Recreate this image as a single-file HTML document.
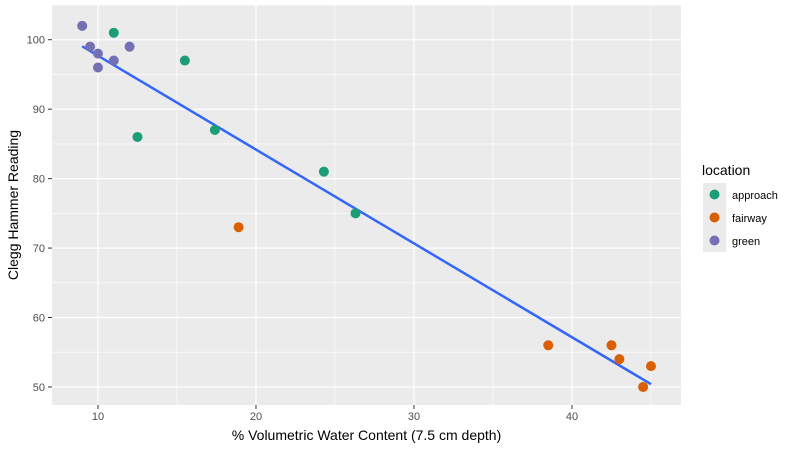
<!DOCTYPE html>
<html><head><meta charset="utf-8"><style>
body{margin:0;background:#fff;font-family:"Liberation Sans",sans-serif}
</style></head><body>
<svg id="c" width="800" height="450" xmlns="http://www.w3.org/2000/svg"></svg>
<script>
const approachX=[11,15.5,12.5,17.4,24.3,26.3];
const approachY=[101,97,86,87,81,75];
const fairwayX=[18.9,38.5,42.5,43,45,44.5];
const fairwayY=[73,56,56,54,53,50];
const greenX=[9,9.5,10,10,11,12];
const greenY=[102,99,98,96,97,99];
const xTicks=[10,20,30,40];
const yTicks=[50,60,70,80,90,100];
const colors={approach:"#1b9e77",fairway:"#d95f02",green:"#7570b3"};
const NS="http://www.w3.org/2000/svg";
const svg=document.getElementById('c');
const L=52,R=681,T=5,B=405;
const x0=7.09,x1=46.9,y0=47.4,y1=105.0;
const sx=v=>L+(v-x0)/(x1-x0)*(R-L);
const sy=v=>B-(v-y0)/(y1-y0)*(B-T);
function el(t,a,p){const e=document.createElementNS(NS,t);for(const k in a)e.setAttribute(k,a[k]);(p||svg).appendChild(e);return e;}
const bg=el('rect',{x:L,y:T,width:R-L,height:B-T,fill:'#ebebeb'});


// minor grid
for(let v=5;v<=45;v+=10){const g=el('line',{x1:sx(v),x2:sx(v),y1:T,y2:B,stroke:'#fff','stroke-width':0.6});}
for(let v=55;v<=105;v+=10){if(sy(v)<T)continue;const g=el('line',{x1:L,x2:R,y1:sy(v),y2:sy(v),stroke:'#fff','stroke-width':0.6});}
xTicks.forEach(v=>{const g=el('line',{x1:sx(v),x2:sx(v),y1:T,y2:B,stroke:'#fff','stroke-width':1.2});
const t=el('line',{x1:sx(v),x2:sx(v),y1:B,y2:B+4,stroke:'#333'});
const l=el('text',{x:sx(v),y:B+15,'text-anchor':'middle','font-size':11,fill:'#4d4d4d'});l.textContent=v;});
yTicks.forEach(v=>{const g=el('line',{x1:L,x2:R,y1:sy(v),y2:sy(v),stroke:'#fff','stroke-width':1.2});
const t=el('line',{x1:L-4,x2:L,y1:sy(v),y2:sy(v),stroke:'#333'});
const l=el('text',{x:L-7,y:sy(v)+4,'text-anchor':'end','font-size':11,fill:'#4d4d4d'});l.textContent=v;});
// regression
const AX=approachX.concat(fairwayX,greenX),AY=approachY.concat(fairwayY,greenY);
const n=AX.length,mx=AX.reduce((a,b)=>a+b)/n,my=AY.reduce((a,b)=>a+b)/n;
let sxy=0,sxx=0;for(let i=0;i<n;i++){sxy+=(AX[i]-mx)*(AY[i]-my);sxx+=(AX[i]-mx)**2;}
const b=sxy/sxx,a=my-b*mx,xmn=Math.min(...AX),xmx=Math.max(...AX);
const rl=el('line',{x1:sx(xmn),y1:sy(a+b*xmn),x2:sx(xmx),y2:sy(a+b*xmx),stroke:'#3366ff','stroke-width':2.5});


function pts(X,Y,c,name){X.forEach((v,i)=>{const p=el('circle',{cx:sx(v),cy:sy(Y[i]),r:5,fill:c});});}
pts(approachX,approachY,colors.approach,'approach');
pts(fairwayX,fairwayY,colors.fairway,'fairway');
pts(greenX,greenY,colors.green,'green');
const xt=el('text',{x:(L+R)/2,y:440,'text-anchor':'middle','font-size':14,fill:'#000'});xt.textContent='% Volumetric Water Content (7.5 cm depth)';


const yt=el('text',{x:0,y:0,'text-anchor':'middle','font-size':14,fill:'#000',transform:`translate(18,${(T+B)/2}) rotate(-90)`});yt.textContent='Clegg Hammer Reading';


const lt=el('text',{x:702,y:175,'font-size':14,fill:'#000'});lt.textContent='location';


['approach','fairway','green'].forEach((k,i)=>{const y=183+i*23;
const r=el('rect',{x:703,y:y,width:23,height:23,fill:'#ebebeb'});
const c=el('circle',{cx:714.5,cy:y+11.5,r:5,fill:colors[k]});
const t=el('text',{x:732,y:y+16,'font-size':11,fill:'#000'});t.textContent=k;});
</script>
</body></html>
